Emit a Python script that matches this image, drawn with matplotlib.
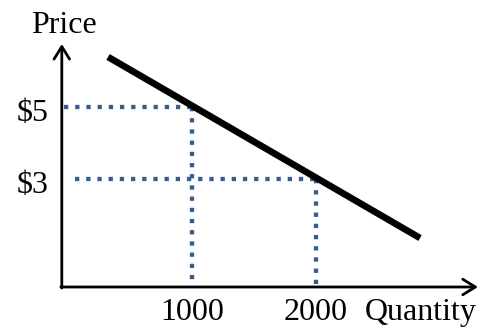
import matplotlib
matplotlib.use("Agg")
import matplotlib.pyplot as plt

# Data
quantities = [1000, 2000]
prices = [5, 3]
price_labels = ["$5", "$3"]
qty_labels = ["1000", "2000"]
demand_q = [323, 2839]
demand_p = [6.39, 1.36]
hline_start = [-32, 56]

plt.rcParams['font.family'] = ['Liberation Serif', 'DejaVu Serif']

fig = plt.figure(figsize=(4.8, 3.28), dpi=100)
ax = fig.add_axes([0, 0, 1, 1])
ax.set_xlim(-548.4, 3322.6)
ax.set_ylim(-1.139, 7.972)
ax.axis('off')

blue = '#385D8A'
origin_q, origin_p = -50, 0.0

# Axes arrows
arrow_kw = dict(arrowstyle='->,head_length=0.45,head_width=0.28', lw=2,
                color='black', shrinkA=0, shrinkB=0, mutation_scale=20)
ax.annotate('', xy=(origin_q, 6.75), xytext=(origin_q, origin_p - 0.03),
            arrowprops=arrow_kw)
ax.annotate('', xy=(3306, origin_p), xytext=(origin_q - 8, origin_p),
            arrowprops=arrow_kw)

# Dotted guide lines
for q, p, qs in zip(quantities, prices, hline_start):
    ax.plot([qs, q], [p, p], color=blue, lw=3.1, linestyle=(0, (1, 1.6)),
            dash_capstyle='butt')
    ax.plot([q, q], [p, origin_p + 0.05], color=blue, lw=3.1,
            linestyle=(0, (1, 1.6)), dash_capstyle='butt')

# Demand line
ax.plot(demand_q, demand_p, color='black', lw=4.8, solid_capstyle='butt')

fs = 23
ax.text(-34, 7.06, "Price", fontsize=fs, ha='center', va='baseline')
for p, lab in zip(prices, price_labels):
    ax.text(-285, p - 0.17, lab, fontsize=fs, ha='center', va='center')
for q, lab in zip(quantities, qty_labels):
    ax.text(q, -0.93, lab, fontsize=fs, ha='center', va='baseline')
ax.text(2845, -0.93, "Quantity", fontsize=fs, ha='center', va='baseline')

fig.savefig("out.png", dpi=100)
